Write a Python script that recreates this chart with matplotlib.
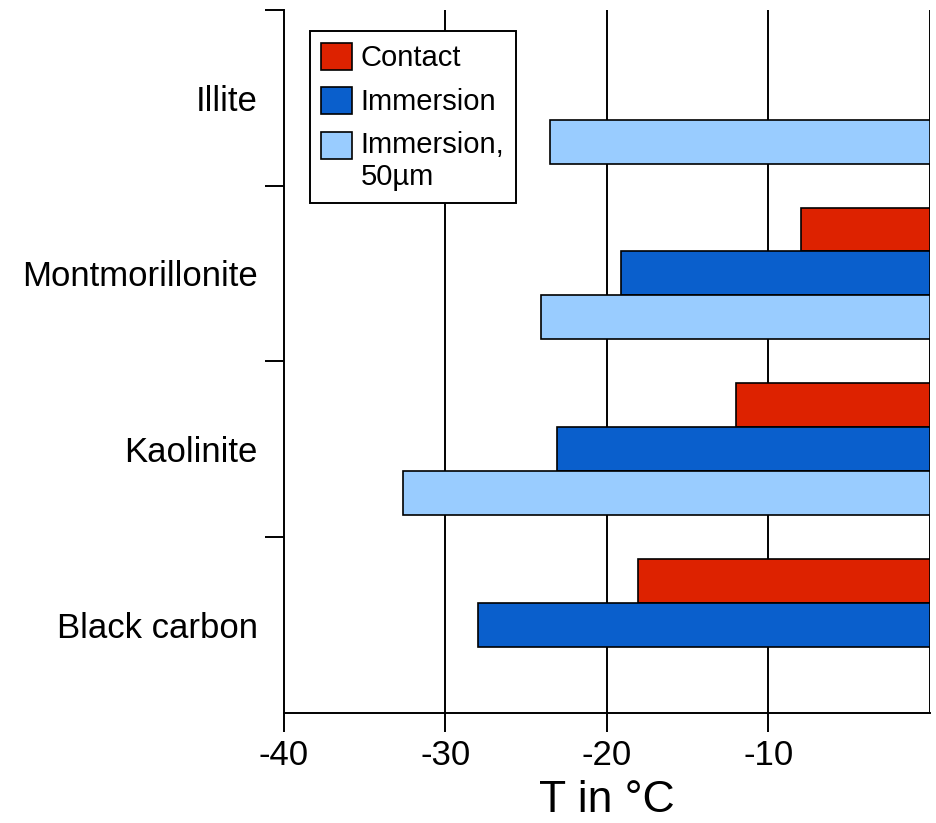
import numpy as np
import matplotlib.pyplot as plt
from matplotlib.patches import Rectangle
from matplotlib.legend_handler import HandlerPatch
from matplotlib.ticker import FixedLocator, NullFormatter

plt.rcParams['font.family'] = ['Liberation Sans', 'DejaVu Sans']
plt.rcParams['axes.unicode_minus'] = False

# data (T in degC), NaN = no bar
categories = ["Black carbon", "Kaolinite", "Montmorillonite", "Illite"]
contact = [-18.1, -12.0, -8.0, np.nan]
immersion = [-28.0, -23.1, -19.1, np.nan]
immersion_50um = [np.nan, -32.6, -24.1, -23.5]

series = [("Contact", contact, "#dd2200"),
          ("Immersion", immersion, "#0a5fcc"),
          ("Immersion,\n50µm", immersion_50um, "#99ccff")]


# legend square for the two-line label sits on its first line
def top_square(legend, orig_handle, xdescent, ydescent, width, height, fontsize):
    return Rectangle((-xdescent, -ydescent + 0.55 * fontsize), width, height)


fig = plt.figure(figsize=(9.37, 8.23), dpi=100)
ax = fig.add_axes([0.303, 0.134, 0.6895, 0.854])

y = np.arange(len(categories))
h = 0.25
offsets = [h, 0, -h]
handles = []
for (name, vals, col), off in zip(series, offsets):
    b = ax.barh(y + off, vals, height=h, color=col, edgecolor="black",
                linewidth=1.2, label=name, zorder=3)
    handles.append(b.patches[0])

for xv in [-30, -20, -10, 0]:
    ax.axvline(xv, color="black", lw=1.4, zorder=1)

ax.set_xlim(-40, 0)
ax.set_ylim(-0.5, 3.5)
ax.set_xticks([-40, -30, -20, -10])
ax.set_xticklabels(["-40", "-30", "-20", "-10"], fontsize=25,
                   family=["Liberation Sans Narrow", "Liberation Sans"])
ax.set_yticks(y)
ax.set_yticklabels(categories, fontsize=25)
ax.yaxis.set_minor_locator(FixedLocator([0.5, 1.5, 2.5, 3.5]))
ax.yaxis.set_minor_formatter(NullFormatter())
ax.tick_params(axis="y", which="major", length=0, pad=19)
ax.tick_params(axis="y", which="minor", length=14, width=1.4)
ax.tick_params(axis="x", length=14, width=1.4, pad=5)
ax.set_xlabel("T in °C", fontsize=32, labelpad=6)

for s in ["top", "right"]:
    ax.spines[s].set_visible(False)
for s in ["left", "bottom"]:
    ax.spines[s].set_linewidth(1.4)

leg = ax.legend(handles, [s[0] for s in series],
                handler_map={handles[2]: HandlerPatch(patch_func=top_square)},
                loc="upper left", bbox_to_anchor=(0.04, 0.97), fontsize=21,
                frameon=True, fancybox=False, edgecolor="black",
                handlelength=1.05, handleheight=1.05, handletextpad=0.3,
                borderpad=0.4, labelspacing=0.5, borderaxespad=0)
leg.get_frame().set_linewidth(1.4)
leg.get_frame().set_alpha(1)

fig.savefig("out.png", dpi=100)
